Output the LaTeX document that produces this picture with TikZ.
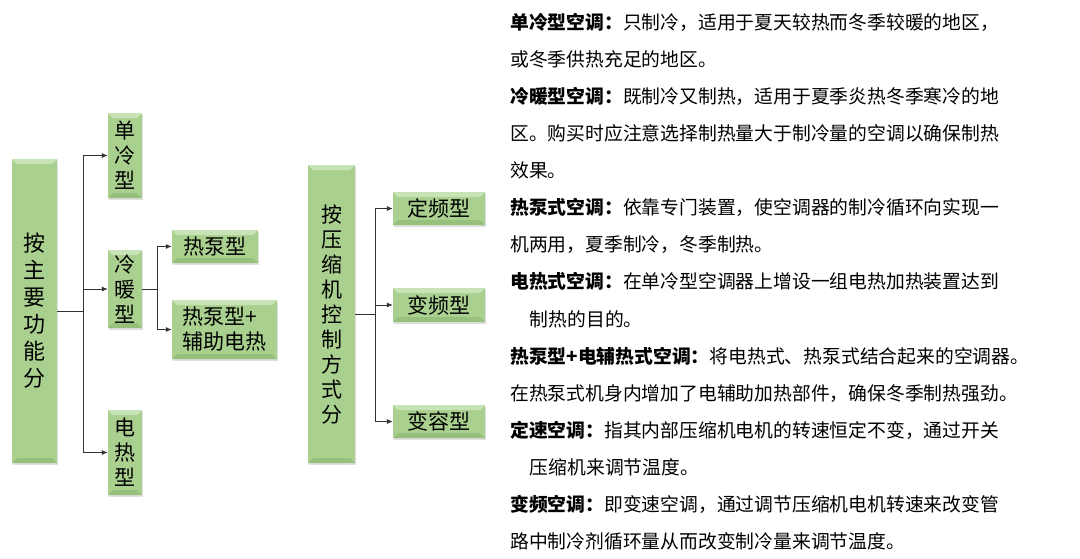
\documentclass[tikz,border=0pt]{standalone}
\usepackage{fontspec}
\setmainfont{Noto Sans CJK SC}
\usetikzlibrary{arrows.meta,shadows}
\definecolor{boxgreen}{RGB}{169,208,142}
\definecolor{bevtop}{RGB}{200,228,182}
\definecolor{bevlow}{RGB}{150,192,124}
\definecolor{linegray}{RGB}{50,50,50}
\tikzset{
  gbox/.style={fill=boxgreen, inner sep=0pt, align=center,
    font=\fontsize{21pt}{25pt}\selectfont,
    drop shadow={opacity=0.25, shadow xshift=1pt, shadow yshift=-1.5pt},
    path picture={
      \coordinate (nw) at (path picture bounding box.north west);
      \coordinate (ne) at (path picture bounding box.north east);
      \coordinate (sw) at (path picture bounding box.south west);
      \coordinate (se) at (path picture bounding box.south east);
      \fill[bevtop] (nw) -- (ne) -- ([xshift=-5pt,yshift=-5pt]ne) -- ([xshift=5pt,yshift=-5pt]nw) -- cycle;
      \fill[bevlow] (sw) -- (se) -- ([xshift=-5pt,yshift=5pt]se) -- ([xshift=5pt,yshift=5pt]sw) -- cycle;
    }},
  conn/.style={->, draw=linegray, line width=0.8pt},
  >={Latex[length=6pt,width=5pt]}
}
\begin{document}
\begin{tikzpicture}[x=1pt, y=-1pt]
\useasboundingbox (0,0) rectangle (1080,558);
% left tree
\node[gbox, minimum width=45pt, minimum height=304pt, font=\fontsize{22pt}{27pt}\selectfont] (func) at (34.5,311) {按\\主\\要\\功\\能\\分};
\node[gbox, minimum width=34pt, minimum height=85pt] (dl) at (125,155.5) {单\\冷\\型};
\node[gbox, minimum width=34pt, minimum height=78pt] (ln) at (125,289) {冷\\暖\\型};
\node[gbox, minimum width=34pt, minimum height=85pt] (dr) at (125,452.5) {电\\热\\型};
\node[gbox, minimum width=86pt, minimum height=33pt] (rb) at (215,246.5) {热泵型};
\node[gbox, minimum width=105pt, minimum height=59pt, align=left] (rbf) at (224.5,329.5) {热泵型+\\辅助电热};
\draw[conn] (func.east) -- ++(26,0) |- (dl.west);
\draw[conn] (func.east) -- ++(26,0) |- (ln.west);
\draw[conn] (func.east) -- ++(26,0) |- (dr.west);
\draw[conn] (ln.east) -- ++(15,0) |- (rb.west);
\draw[conn] (ln.east) -- ++(15,0) |- (rbf.west);
% compressor tree
\node[gbox, minimum width=47pt, minimum height=298pt] (comp) at (331.5,314) {按\\压\\缩\\机\\控\\制\\方\\式\\分};
\node[gbox, minimum width=92pt, minimum height=33pt] (dp) at (439,208.5) {定频型};
\node[gbox, minimum width=92pt, minimum height=34pt] (bp) at (439,305) {变频型};
\node[gbox, minimum width=92pt, minimum height=33pt] (br) at (439,421.5) {变容型};
\draw[conn] (comp.east) -- ++(20,0) |- (dp.west);
\draw[conn] (comp.east) -- ++(20,0) |- (bp.west);
\draw[conn] (comp.east) -- ++(20,0) |- (br.west);
% notes
\foreach \txt [count=\i] in {
  {\textbf{单冷型空调：}只制冷，适用于夏天较热而冬季较暖的地区，},
  {或冬季供热充足的地区。},
  {\textbf{冷暖型空调：}既制冷又制热，适用于夏季炎热冬季寒冷的地},
  {区。购买时应注意选择制热量大于制冷量的空调以确保制热},
  {效果。},
  {\textbf{热泵式空调：}依靠专门装置，使空调器的制冷循环向实现一},
  {机两用，夏季制冷，冬季制热。},
  {\textbf{电热式空调：}在单冷型空调器上增设一组电热加热装置达到},
  {\hspace*{1.05em}制热的目的。},
  {\textbf{热泵型+电辅热式空调：}将电热式、热泵式结合起来的空调器。},
  {在热泵式机身内增加了电辅助加热部件，确保冬季制热强劲。},
  {\textbf{定速空调：}指其内部压缩机电机的转速恒定不变，通过开关},
  {\hspace*{1.05em}压缩机来调节温度。},
  {\textbf{变频空调：}即变速空调，通过调节压缩机电机转速来改变管},
  {路中制冷剂循环量从而改变制冷量来调节温度。}}
  \node[anchor=base west, inner sep=0pt, font=\fontsize{18.8pt}{22pt}\selectfont] (l\i) at (510, 29+37.14*\i-37.14) {\txt};
\end{tikzpicture}
\end{document}
